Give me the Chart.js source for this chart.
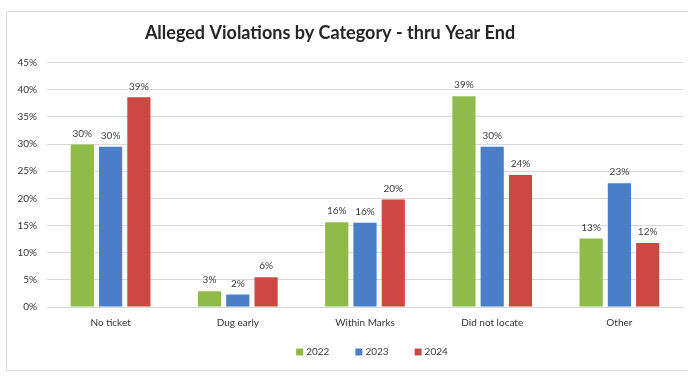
<!DOCTYPE html>
<html>
<head>
<meta charset="utf-8">
<script src="https://cdn.jsdelivr.net/npm/chart.js@4.4.1/dist/chart.umd.min.js"></script>
<style>
    html, body { margin: 0; padding: 0; background: #ffffff; overflow: hidden; }
    #frame {
        position: absolute;
        left: 6px;
        top: 11px;
        width: 700px;
        height: 358px;
        border: 1px solid #dcdcdc;
        background: #ffffff;
    }
    #violationsChart { position: absolute; left: 0; top: 0; }
</style>
</head>
<body>
<div id="frame"><canvas id="violationsChart" width="681" height="357"></canvas></div>
<script>
// Categorias y porcentajes por año
const categories = ["No ticket", "Dug early", "Within Marks", "Did not locate", "Other"];
const years = ["2022", "2023", "2024"];
const values2022 = [29.9, 2.9, 15.6, 38.8, 12.6];
const values2023 = [29.5, 2.3, 15.5, 29.5, 22.8];
const values2024 = [38.6, 5.5, 19.8, 24.3, 11.8];
const yTicks = [0, 5, 10, 15, 20, 25, 30, 35, 40, 45];

const colors = ["#8fbb4b", "#4a7ec6", "#cb4843"];
const fontFamily = "Lato, 'Open Sans', sans-serif";

// Etiquetas de valor encima de cada barra
const barLabels = {
    id: "barLabels",
    afterDatasetsDraw(chart) {
        const ctx = chart.ctx;
        ctx.save();
        ctx.font = "10px " + fontFamily;
        ctx.fillStyle = "#404040";
        ctx.textAlign = "center";
        ctx.textBaseline = "bottom";
        chart.data.datasets.forEach((ds, i) => {
            chart.getDatasetMeta(i).data.forEach((bar, j) => {
                ctx.fillText(Math.round(ds.data[j]) + "%", bar.x, bar.y - 6);
            });
        });
        ctx.restore();
    }
};

// Título algo a la izquierda y leyenda propia abajo
const titleShift = {
    id: "titleShift",
    beforeDraw(chart) {
        const t = chart.titleBlock;
        const d = 323 - (t.left + t.right) / 2;
        t.left += d;
        t.right += d;
    }
};

const bottomLegend = {
    id: "bottomLegend",
    afterDraw(chart) {
        const ctx = chart.ctx;
        const y = 340;
        const gap = 26;
        ctx.save();
        ctx.font = "10px " + fontFamily;
        const widths = years.map(y => 7 + 3 + ctx.measureText(y).width);
        const total = widths.reduce((a, b) => a + b, 0) + gap * (years.length - 1);
        let x = 365 - total / 2;
        ctx.textBaseline = "middle";
        ctx.textAlign = "left";
        years.forEach((label, i) => {
            ctx.fillStyle = colors[i];
            ctx.fillRect(x, y - 3.5, 7, 7);
            ctx.fillStyle = "#404040";
            ctx.fillText(label, x + 10, y);
            x += widths[i] + gap;
        });
        ctx.restore();
    }
};

const ctx = document.getElementById("violationsChart").getContext("2d");

const violationsChart = new Chart(ctx, {
    type: "bar",
    data: {
        labels: categories,
        datasets: [values2022, values2023, values2024].map((vals, i) => ({
            label: years[i],
            data: vals,
            backgroundColor: colors[i],
            categoryPercentage: 0.667,
            barPercentage: 0.82,
        })),
    },
    options: {
        responsive: false,
        animation: false,
        layout: { padding: { left: 4, right: 5, top: 0, bottom: 30 } },
        plugins: {
            title: {
                display: true,
                text: "Alleged Violations by Category - thru Year End",
                color: "#262626",
                font: { family: fontFamily, size: 18, weight: "bold" },
                padding: { top: 10, bottom: 19 },
            },
            legend: { display: false },
            tooltip: { enabled: false },
        },
        scales: {
            x: {
                grid: { display: false, drawTicks: false },
                border: { display: true, color: "#d9d9d9" },
                ticks: {
                    color: "#333333",
                    font: { family: fontFamily, size: 10 },
                    padding: 10,
                },
            },
            y: {
                min: 0,
                max: 45,
                afterBuildTicks(axis) {
                    axis.ticks = yTicks.map(v => ({ value: v }));
                },
                afterFit(axis) {
                    axis.width = 36;
                },
                grid: { color: "#d9d9d9", drawTicks: false },
                border: { display: false },
                ticks: {
                    color: "#333333",
                    font: { family: fontFamily, size: 10 },
                    padding: 10,
                    callback: v => v + "%",
                },
            },
        },
    },
    plugins: [barLabels, titleShift, bottomLegend],
});
</script>
</body>
</html>
